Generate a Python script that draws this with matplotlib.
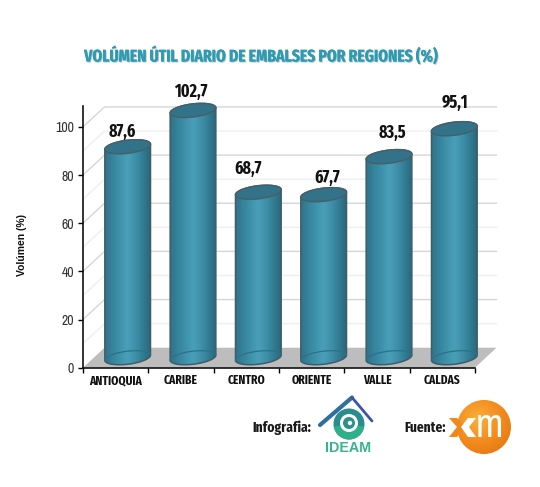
import numpy as np
import matplotlib
matplotlib.use('Agg')
import matplotlib.pyplot as plt
from matplotlib import font_manager as fm
from matplotlib.patches import Polygon, Circle, Wedge
from matplotlib.colors import LinearSegmentedColormap
import matplotlib.patheffects as pe

regions = ['ANTIOQUIA', 'CARIBE', 'CENTRO', 'ORIENTE', 'VALLE', 'CALDAS']
volumen = [87.6, 102.7, 68.7, 67.7, 83.5, 95.1]
value_labels = ['87,6', '102,7', '68,7', '67,7', '83,5', '95,1']
label_shift = [(-5, 6), (-2, 10), (-10, 15), (4, 8), (3.5, 15), (1, 17)]
yticks = [0, 20, 40, 60, 80, 100]

W, H = 540, 487
have = {f.name for f in fm.fontManager.ttflist}
narrow = [n for n in ['Arial Narrow', 'Liberation Sans Narrow', 'Archivo Narrow', 'PT Sans Narrow',
                      'Roboto Condensed', 'Asap Condensed'] if n in have][:1] + ['DejaVu Sans']
tight = [n for n in ['Fira Sans Extra Condensed', 'Barlow Condensed', 'Sofia Sans Extra Condensed',
                     'Saira ExtraCondensed'] if n in have][:1] + narrow
plt.rcParams['font.family'] = narrow

fig = plt.figure(figsize=(W / 100, H / 100), dpi=100, facecolor='white')
ax = fig.add_axes([83 / W, (H - 367.7) / H, 392 / W, 261.7 / H])
ax.set_xlim(-0.5, 5.5)
ax.set_ylim(0, 108.7)
xpx = 392 / 6
ypx = 261.7 / 108.7

# depth of the fake 3d box
dx = 21.5 / xpx
dy = 20 / ypx

# floor and back wall
ax.add_patch(Polygon([(-0.5, 0), (5.5, 0), (5.5 + dx, dy), (-0.5 + dx, dy)],
                     fc='#bdbdbd', ec='none', clip_on=False, zorder=1))
for v in range(10, 110, 10):
    col = '#d6d6d6' if v % 20 == 0 else '#efefef'
    ax.plot([-0.5, -0.5 + dx, 5.5 + dx], [v, v + dy, v + dy], color=col, lw=1,
            clip_on=False, zorder=1)

cmap = LinearSegmentedColormap.from_list(
    'cyl', ['#2f7388', '#36839b', '#3f92ab', '#4a9fb8', '#3f90a9', '#317c94', '#296679'])
grad = np.linspace(0, 1, 128).reshape(1, -1)

rx, ry, tilt = 23, 6.5, np.radians(7)


def ellipse(cx, cy, t):
    # ellipse in pixels, returned in data units
    px = rx * np.cos(t) * np.cos(tilt) - ry * np.sin(t) * np.sin(tilt)
    py = rx * np.cos(t) * np.sin(tilt) + ry * np.sin(t) * np.cos(tilt)
    return np.column_stack([cx + px / xpx, cy + py / ypx])


t_all = np.linspace(0, 2 * np.pi, 90)
t_up = np.linspace(0, np.pi, 45)
t_low = np.linspace(np.pi, 2 * np.pi, 45)

for i, (val, lab) in enumerate(zip(volumen, value_labels)):
    cx = i + 12 / xpx
    cy = dy / 2
    top = val + cy
    body = np.vstack([ellipse(cx, cy, t_low), ellipse(cx, top, t_up)])
    poly = Polygon(body, closed=True, fc='none', ec='#3f5c68', lw=1.1, zorder=3, clip_on=False)
    ax.add_patch(poly)
    im = ax.imshow(grad, cmap=cmap, aspect='auto', zorder=2.5,
                   extent=[cx - 23.5 / xpx, cx + 23.5 / xpx, 0, top + 6])
    im.set_clip_box(fig.bbox)
    im.set_clip_path(poly)
    base = ellipse(cx, cy, t_up)
    ax.plot(base[:, 0], base[:, 1], color='#2c7188', lw=0.9, zorder=3, clip_on=False)
    ax.add_patch(Polygon(ellipse(cx, top, t_all), fc='#33738a', ec='#46606b', lw=1.1,
                         zorder=4, clip_on=False))
    sx, sy = label_shift[i]
    ax.annotate(lab, (cx, top), xytext=(sx * 0.72, sy * 0.72), textcoords='offset points',
                ha='center', va='bottom', fontsize=12.5, fontweight='bold', color='#111111',
                family=tight, zorder=5, annotation_clip=False)

ax.set_xlim(-0.5, 5.5)
ax.set_ylim(0, 108.7)
for s in ['top', 'right']:
    ax.spines[s].set_visible(False)
for s in ['left', 'bottom']:
    ax.spines[s].set_linewidth(1.2)
    ax.spines[s].set_color('#111111')
    ax.spines[s].set_zorder(6)
ax.patch.set_alpha(0)
ax.set_yticks(yticks)
ax.tick_params(axis='y', length=3.5, width=1, labelsize=10, labelcolor='#333333', pad=3)
ax.set_xticks(np.arange(-0.5, 6, 1))
ax.set_xticklabels([])
ax.tick_params(axis='x', which='major', length=3.5, width=1)
ax.set_xticks(range(6), minor=True)
ax.set_xticklabels(regions, minor=True, fontsize=9, fontweight='bold', color='#111111', family=tight)
ax.tick_params(axis='x', which='minor', length=0, pad=5)

# overlay in pixel units for title and logos
ov = fig.add_axes([0, 0, 1, 1], zorder=10)
ov.set_xlim(0, W)
ov.set_ylim(H, 0)
ov.axis('off')
ov.patch.set_alpha(0)

ov.text(260, 56, 'VOLÚMEN ÚTIL DIARIO DE EMBALSES POR REGIONES (%)', ha='center', va='center',
        fontsize=12.2, fontweight='bold', color='#2b9cb4', family=tight,
        path_effects=[pe.withSimplePatchShadow(offset=(0.7, -0.7), shadow_rgbFace='#888888', alpha=0.5),
                      pe.Normal()])
ov.text(22, 245, 'Volúmen (%)', rotation=90, ha='center', va='center', fontsize=7.5,
        fontweight='bold', family=['Liberation Sans', 'DejaVu Sans'], color='#111111')
ov.text(252, 428, 'Infografia:', ha='left', va='center', fontsize=10.5, fontweight='bold',
        family=tight, color='#1a1a1a')
ov.text(404, 428, 'Fuente:', ha='left', va='center', fontsize=10.5, fontweight='bold',
        family=tight, color='#1a1a1a')

# IDEAM logo
ov.plot([320, 352], [425, 397.5], color='#2f6f9f', lw=3, solid_capstyle='round')
ov.plot([352, 372], [397.5, 421], color='#3d55a5', lw=2, solid_capstyle='round')
ov.add_patch(Circle((349, 424), 15.5, fc='#2a8c8c', ec='none'))
ov.add_patch(Wedge((349, 424), 15.5, 10, 170, fc='#2fb08a', ec='none'))
ov.add_patch(Circle((349, 423), 9, fc='white', ec='none'))
ov.add_patch(Circle((349, 423), 6, fc='#2b8f8a', ec='none'))
ov.add_patch(Circle((350, 423), 2.2, fc='white', ec='none'))
ov.text(348, 448, 'IDEAM', ha='center', va='center', fontsize=10.3, fontweight='bold',
        family=['Liberation Sans', 'DejaVu Sans'], color='#35b48d')

# XM logo
yy, xx = np.mgrid[-1:1:128j, -1:1:128j]
glow = np.hypot(xx + 0.2, yy + 0.3)
orange = LinearSegmentedColormap.from_list('xm', ['#fbb03b', '#f28a1c', '#e06f10'])
disc = Circle((484, 427), 27, transform=ov.transData, fc='none', ec='none')
ov.add_patch(disc)
im = ov.imshow(glow, cmap=orange, extent=[456, 511, 454, 400], aspect='auto', zorder=2)
im.set_clip_path(disc)
ov.set_xlim(0, W)
ov.set_ylim(H, 0)
ov.add_patch(Polygon([(449, 418), (457, 418), (465, 427), (457, 437), (449, 437), (457, 427)],
                     fc='#f0881a', ec='none', zorder=3))
ov.add_patch(Polygon([(468, 418), (476, 418), (469, 427), (476, 437), (468, 437), (461, 427)],
                     fc='white', ec='none', zorder=3))
ov.text(489, 437, 'm', ha='center', va='baseline', fontsize=29, fontweight='bold',
        family=narrow, color='white', zorder=4)

fig.savefig('out.png', dpi=100)
